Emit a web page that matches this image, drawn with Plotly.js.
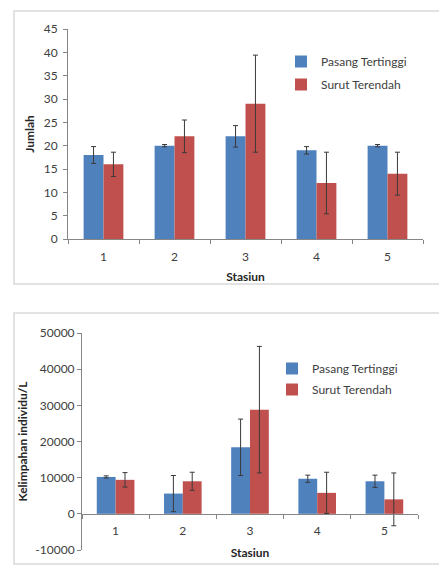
<!DOCTYPE html>
<html>
<head>
<meta charset="utf-8">
<script src="https://cdn.plot.ly/plotly-3.0.1.min.js"></script>
<style>html,body{margin:0;padding:0;background:#fff}#chart{width:439px;height:565px}</style>
</head>
<body>
<div id="chart"></div>
<script>
// Data
const stations = ['1', '2', '3', '4', '5'];
const seriesNames = ['Pasang Tertinggi', 'Surut Terendah'];

// Top chart: Jumlah
const jumlahPasang = [18, 20, 22, 19, 20];
const jumlahPasangErr = [1.8, 0.25, 2.3, 0.8, 0.25];
const jumlahSurut = [16, 22, 29, 12, 14];
const jumlahSurutErr = [2.6, 3.5, 10.4, 6.6, 4.6];
const jumlahTicks = [0, 5, 10, 15, 20, 25, 30, 35, 40, 45];

// Bottom chart: Kelimpahan individu/L
const kelimpahanPasang = [10200, 5600, 18400, 9700, 9000];
const kelimpahanPasangErr = [300, 5000, 7800, 1000, 1700];
const kelimpahanSurut = [9400, 9000, 28800, 5800, 4000];
const kelimpahanSurutErr = [2000, 2500, 17500, 5700, 7300];
const kelimpahanTicks = [-10000, 0, 10000, 20000, 30000, 40000, 50000];
const kelimpahanTickLabels = ['-10000', '0', '10000', '20000', '30000', '40000', '50000'];

const blue = '#4F81BD';
const red = '#C0504D';
const errStyle = {type: 'data', color: '#3a3a3a', thickness: 1, width: 2.5, visible: true};
const fontFam = 'Lato, "Open Sans", sans-serif';

function barTrace(y, err, name, color, xa, ya, legend, group) {
  return {
    type: 'bar', x: stations, y: y, name: name,
    xaxis: xa, yaxis: ya, legend: legend, legendgroup: group,
    marker: {color: color, line: {width: 0}},
    error_y: Object.assign({array: err}, errStyle),
    hoverinfo: 'y'
  };
}

const data = [
  barTrace(jumlahPasang, jumlahPasangErr, seriesNames[0], blue, 'x', 'y', 'legend', 'a1'),
  barTrace(jumlahSurut, jumlahSurutErr, seriesNames[1], red, 'x', 'y', 'legend', 'b1'),
  barTrace(kelimpahanPasang, kelimpahanPasangErr, seriesNames[0], blue, 'x2', 'y2', 'legend2', 'a2'),
  barTrace(kelimpahanSurut, kelimpahanSurutErr, seriesNames[1], red, 'x2', 'y2', 'legend2', 'b2')
];

const W = 439, H = 565;
const topDomY = [(H - 239) / H, (H - 29) / H];
const botDomY = [(H - 550) / H, (H - 333) / H];
const botZero = botDomY[0] + (botDomY[1] - botDomY[0]) / 6;

const axisCommon = {
  showgrid: false, zeroline: false, showline: true, linecolor: '#868686', linewidth: 1,
  ticks: 'outside', ticklen: 4, tickcolor: '#868686', tickwidth: 1,
  tickfont: {family: fontFam, size: 12, color: '#404040'}
};
const titleFont = {family: fontFam, size: 12, color: '#262626', weight: 'bold'};

const layout = {
  width: W, height: H,
  margin: {l: 0, r: 0, t: 0, b: 0},
  paper_bgcolor: '#fff', plot_bgcolor: 'rgba(0,0,0,0)',
  barmode: 'group', bargap: 0.44, bargroupgap: 0,
  font: {family: fontFam},
  showlegend: true,
  xaxis: Object.assign({}, axisCommon, {
    domain: [68 / W, 423 / W], anchor: 'y', type: 'category', tickson: 'boundaries',
    ticklabelstandoff: 7,
    title: {text: 'Stasiun', font: titleFont, standoff: 9}
  }),
  yaxis: Object.assign({}, axisCommon, {
    domain: topDomY, anchor: 'x', range: [0, 45], tickmode: 'array', tickvals: jumlahTicks,
    ticklabelstandoff: 3,
    title: {text: 'Jumlah', font: titleFont, standoff: 6}
  }),
  xaxis2: Object.assign({}, axisCommon, {
    domain: [82 / W, 418 / W], anchor: 'free', position: botZero, type: 'category', tickson: 'boundaries',
    ticklabelstandoff: 6,
    title: {text: 'Stasiun', font: titleFont, standoff: 11}
  }),
  yaxis2: Object.assign({}, axisCommon, {
    domain: botDomY, anchor: 'x2', range: [-10000, 50000], tickmode: 'array',
    tickvals: kelimpahanTicks, ticktext: kelimpahanTickLabels,
    title: {text: 'Kelimpahan individu/L', font: titleFont, standoff: 5}
  }),
  legend: {
    x: 281 / W, y: (H - 47) / H, xanchor: 'left', yanchor: 'top',
    bgcolor: 'rgba(0,0,0,0)', font: {family: fontFam, size: 12, color: '#404040'},
    traceorder: 'grouped', tracegroupgap: 4, itemwidth: 30
  },
  legend2: {
    x: 272 / W, y: (H - 354) / H, xanchor: 'left', yanchor: 'top',
    bgcolor: 'rgba(0,0,0,0)', font: {family: fontFam, size: 12, color: '#404040'},
    traceorder: 'grouped', tracegroupgap: 2, itemwidth: 30
  },
  shapes: [
    {type: 'rect', xref: 'paper', yref: 'paper', x0: 14 / W, x1: 1.02, y0: (H - 284) / H, y1: (H - 11) / H,
     line: {color: '#d9d9d9', width: 1.5}, fillcolor: 'rgba(0,0,0,0)', layer: 'below'},
    {type: 'rect', xref: 'paper', yref: 'paper', x0: 14 / W, x1: 1.02, y0: (H - 564) / H, y1: (H - 313) / H,
     line: {color: '#d9d9d9', width: 1.5}, fillcolor: 'rgba(0,0,0,0)', layer: 'below'}
  ]
};

Plotly.newPlot('chart', data, layout, {displayModeBar: false, staticPlot: true});
</script>
</body>
</html>
